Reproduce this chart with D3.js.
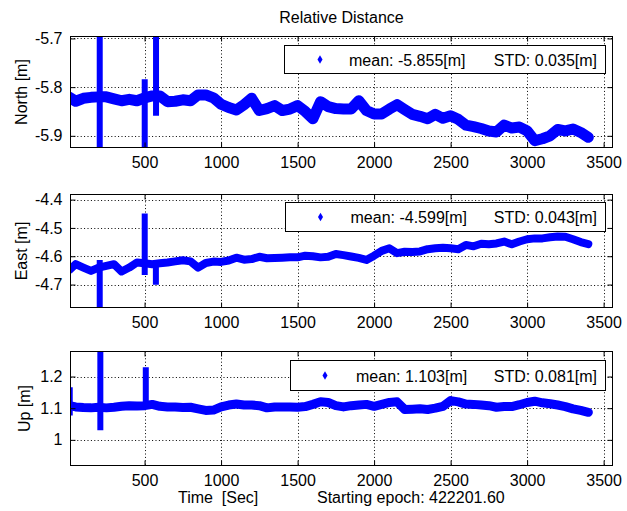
<!DOCTYPE html>
<html>
<head>
<meta charset="utf-8">
<script src="https://cdn.jsdelivr.net/npm/d3@7"></script>
<style>
  body { margin: 0; background: #fff; }
  svg text { font-family: "Liberation Sans", Arial, Helvetica, sans-serif; fill: #000; }
</style>
</head>
<body>
<svg id="chart" width="627" height="511"></svg>
<script>
// time samples [s]
var times = [10, 50, 100, 150, 200, 250, 300, 350, 400, 450, 500, 550, 600, 650, 700, 750, 800, 850, 900, 950,
  1000, 1050, 1100, 1150, 1200, 1250, 1300, 1350, 1400, 1450, 1500, 1550, 1600, 1650, 1700, 1750, 1800, 1850, 1900, 1950,
  2000, 2050, 2100, 2150, 2200, 2250, 2300, 2350, 2400, 2450, 2500, 2550, 2600, 2650, 2700, 2750, 2800, 2850, 2900, 2950,
  3000, 3050, 3100, 3150, 3200, 3250, 3300, 3350, 3400]

var northValues = [-5.821, -5.829, -5.823, -5.821, -5.820, -5.820, -5.824, -5.828, -5.825, -5.828,
  -5.822, -5.818, -5.818, -5.830, -5.829, -5.826, -5.828, -5.816, -5.816, -5.822,
  -5.835, -5.842, -5.847, -5.836, -5.823, -5.848, -5.844, -5.838, -5.848, -5.845,
  -5.838, -5.850, -5.865, -5.830, -5.840, -5.844, -5.845, -5.845, -5.828, -5.848,
  -5.855, -5.855, -5.845, -5.836, -5.846, -5.856, -5.860, -5.865, -5.856, -5.864,
  -5.859, -5.866, -5.878, -5.881, -5.885, -5.890, -5.892, -5.878, -5.884, -5.882,
  -5.890, -5.910, -5.906, -5.900, -5.887, -5.890, -5.886, -5.893, -5.903]

var eastValues = [-4.648, -4.628, -4.640, -4.652, -4.640, -4.634, -4.628, -4.654, -4.640, -4.622,
  -4.625, -4.628, -4.625, -4.622, -4.618, -4.614, -4.618, -4.640, -4.624, -4.619,
  -4.620, -4.615, -4.605, -4.612, -4.610, -4.602, -4.607, -4.606, -4.605, -4.604,
  -4.604, -4.598, -4.600, -4.604, -4.602, -4.592, -4.596, -4.601, -4.606, -4.613,
  -4.598, -4.581, -4.572, -4.589, -4.584, -4.585, -4.583, -4.575, -4.572, -4.570,
  -4.572, -4.575, -4.560, -4.565, -4.556, -4.558, -4.555, -4.548, -4.558, -4.548,
  -4.540, -4.537, -4.537, -4.533, -4.530, -4.531, -4.540, -4.550, -4.557]

var upValues = [1.108, 1.104, 1.102, 1.101, 1.103, 1.101, 1.103, 1.106, 1.108, 1.107,
  1.108, 1.112, 1.106, 1.104, 1.104, 1.102, 1.103, 1.098, 1.093, 1.094,
  1.104, 1.110, 1.113, 1.110, 1.110, 1.108, 1.101, 1.104, 1.104, 1.104,
  1.103, 1.105, 1.112, 1.120, 1.118, 1.108, 1.104, 1.108, 1.110, 1.112,
  1.106, 1.112, 1.118, 1.120, 1.096, 1.097, 1.098, 1.096, 1.100, 1.106,
  1.124, 1.120, 1.113, 1.112, 1.110, 1.108, 1.103, 1.105, 1.105, 1.111,
  1.118, 1.122, 1.117, 1.114, 1.110, 1.105, 1.098, 1.093, 1.087]

// outlier bursts: [time, low, high]
var northSpikes = [[207, -5.95, -5.67], [501, -5.95, -5.784], [575, -5.859, -5.67]]
var eastSpikes = [[207, -4.80, -4.613], [501, -4.666, -4.449], [574, -4.701, -4.625]]
var upSpikes = [[11, 1.077, 1.166], [211, 1.030, 1.30], [508, 1.100, 1.229]]

var xTicks = [500, 1000, 1500, 2000, 2500, 3000, 3500]
var northTicks = [-5.9, -5.8, -5.7]
var eastTicks = [-4.7, -4.6, -4.5, -4.4]
var upTicks = [1, 1.1, 1.2]

var means = ["mean: -5.855[m]", "mean: -4.599[m]", "mean: 1.103[m]"]
var stds = ["STD: 0.035[m]", "STD: 0.043[m]", "STD: 0.081[m]"]

const BLUE = "#0000ff"
const FONT = 16

// matlab style labels, plain hyphen for minus
var oneDec = d => d.toFixed(1)

var panels = [
    {label: "North [m]", values: northValues, spikes: northSpikes, ticks: northTicks, domain: [-5.924, -5.696],
     top: 36.5, bottom: 147.5, band: 11, fmt: oneDec,
     legend: {x0: 284.5, x1: 605.5, y0: 45.5, y1: 73.5, mark: 320, text: 349}, labelX: 27},
    {label: "East [m]", values: eastValues, spikes: eastSpikes, ticks: eastTicks, domain: [-4.781, -4.382],
     top: 194.5, bottom: 307.5, band: 8, fmt: oneDec,
     legend: {x0: 285.5, x1: 605.5, y0: 202.5, y1: 231.5, mark: 320.5, text: 350.5}, labelX: 27},
    {label: "Up [m]", values: upValues, spikes: upSpikes, ticks: upTicks, domain: [0.919, 1.279],
     top: 351.5, bottom: 465.5, band: 9, fmt: d => d === 1 ? "1" : oneDec(d),
     legend: {x0: 290.5, x1: 605.5, y0: 360.5, y1: 390.5, mark: 325, text: 356}, labelX: 30}
]

var left = 70.5, right = 612.5
var svg = d3.select("#chart")
var x = d3.scaleLinear().domain([16, 3558]).range([left, right])

svg.append("text")
    .attr("x", (left + right) / 2).attr("y", 23)
    .attr("text-anchor", "middle").style("font-size", FONT + "px")
    .text("Relative Distance")

panels.forEach(function(p, i) {
    var y = d3.scaleLinear().domain(p.domain).range([p.bottom, p.top])
    var g = svg.append("g")

    g.append("clipPath").attr("id", "clip" + i)
        .append("rect").attr("x", left).attr("y", p.top)
        .attr("width", right - left).attr("height", p.bottom - p.top)

    // dotted grid
    g.selectAll(".vgrid").data(xTicks).join("line")
        .attr("x1", d => Math.round(x(d)) + 0.5).attr("x2", d => Math.round(x(d)) + 0.5)
        .attr("y1", p.top).attr("y2", p.bottom)
        .attr("stroke", "#000").attr("stroke-width", 1).attr("stroke-dasharray", "1,2.4")
    g.selectAll(".hgrid").data(p.ticks).join("line")
        .attr("y1", d => Math.round(y(d)) + 0.5).attr("y2", d => Math.round(y(d)) + 0.5)
        .attr("x1", left).attr("x2", right)
        .attr("stroke", "#000").attr("stroke-width", 1).attr("stroke-dasharray", "1,2.4")

    // data
    var plot = g.append("g").attr("clip-path", "url(#clip" + i + ")")
    var line = d3.line().x((d, k) => x(times[k])).y(d => y(d))
    plot.append("path")
        .datum(p.values)
        .attr("d", line)
        .attr("fill", "none").attr("stroke", BLUE)
        .attr("stroke-width", p.band)
        .attr("stroke-linejoin", "round").attr("stroke-linecap", "round")
    plot.selectAll(".spike").data(p.spikes).join("line")
        .attr("x1", d => x(d[0])).attr("x2", d => x(d[0]))
        .attr("y1", d => y(d[1])).attr("y2", d => y(d[2]))
        .attr("stroke", BLUE).attr("stroke-width", 6)

    // axes, ticks inside on all four sides
    var xb = g.append("g").attr("transform", "translate(0," + p.bottom + ")")
        .call(d3.axisBottom(x).tickValues(xTicks).tickSize(-5).tickPadding(9).tickFormat(d3.format("d")))
    var xt = g.append("g").attr("transform", "translate(0," + p.top + ")")
        .call(d3.axisTop(x).tickValues(xTicks).tickSize(-5).tickFormat(""))
    var yl = g.append("g").attr("transform", "translate(" + left + ",0)")
        .call(d3.axisLeft(y).tickValues(p.ticks).tickSize(-5).tickPadding(8).tickFormat(p.fmt))
    var yr = g.append("g").attr("transform", "translate(" + right + ",0)")
        .call(d3.axisRight(y).tickValues(p.ticks).tickSize(-5).tickFormat(""))
    ;[xb, xt, yl, yr].forEach(function(a) {
        a.select(".domain").remove()
        a.selectAll("text").style("font-size", FONT + "px")
            .style("font-family", "'Liberation Sans', Arial, sans-serif")
    })
    g.append("rect")
        .attr("x", left).attr("y", p.top)
        .attr("width", right - left).attr("height", p.bottom - p.top)
        .attr("fill", "none").attr("stroke", "#000").attr("stroke-width", 1)

    // y label
    g.append("text")
        .attr("transform", "translate(" + p.labelX + "," + (p.top + p.bottom) / 2 + ") rotate(-90)")
        .attr("text-anchor", "middle").style("font-size", FONT + "px")
        .text(p.label)

    // legend
    var lg = p.legend
    var lc = (lg.y0 + lg.y1) / 2
    g.append("rect")
        .attr("x", lg.x0).attr("y", lg.y0)
        .attr("width", lg.x1 - lg.x0).attr("height", lg.y1 - lg.y0)
        .attr("fill", "#fff").attr("stroke", "#000").attr("stroke-width", 1)
    g.append("path")
        .attr("d", d3.symbol(d3.symbolDiamond, 22)())
        .attr("transform", "translate(" + lg.mark + "," + lc + ")")
        .attr("fill", BLUE)
    g.append("text")
        .attr("x", lg.text).attr("y", lc + 6)
        .style("font-size", FONT + "px")
        .text(means[i])
    g.append("text")
        .attr("x", 597).attr("y", lc + 6)
        .attr("text-anchor", "end").style("font-size", FONT + "px")
        .text(stds[i])
})

svg.append("text")
    .attr("x", 178).attr("y", 503)
    .style("font-size", FONT + "px")
    .style("white-space", "pre")
    .text("Time  [Sec]")
svg.append("text")
    .attr("x", 317).attr("y", 503)
    .style("font-size", FONT + "px")
    .text("Starting epoch: 422201.60")
</script>
</body>
</html>
